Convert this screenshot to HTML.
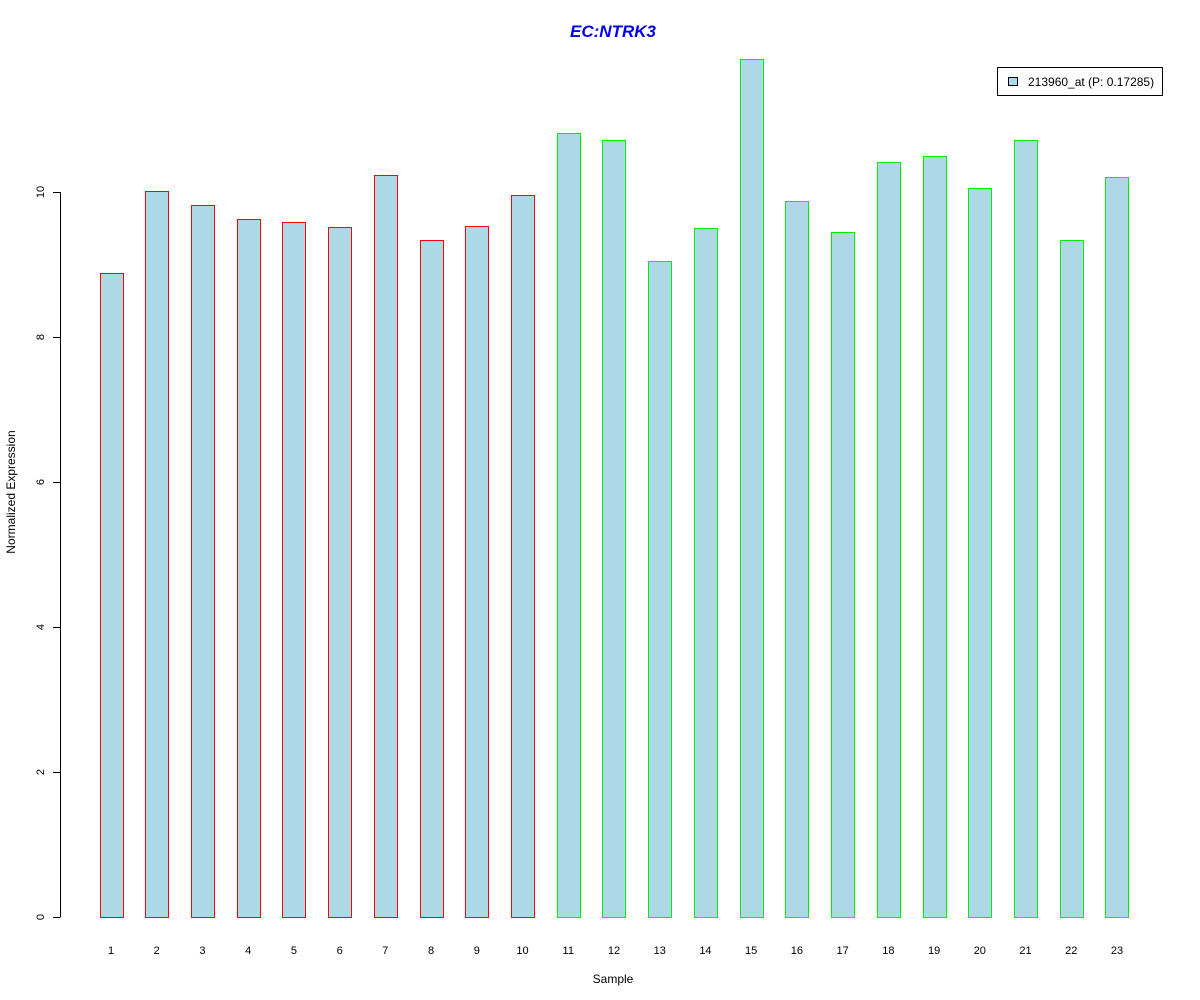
<!DOCTYPE html>
<html><head><meta charset="utf-8"><style>
html,body{margin:0;padding:0;background:#fff;}
svg{display:block;font-family:"Liberation Sans",Arial,sans-serif;}
</style></head><body>
<svg id="chart" width="1200" height="1000" viewBox="0 0 1200 1000">
<rect width="1200" height="1000" fill="#fff"/>
<text x="613" y="37" text-anchor="middle" font-size="17" font-weight="bold" font-style="italic" fill="#0000ee">EC:NTRK3</text>
<text x="613" y="983" text-anchor="middle" font-size="12">Sample</text>
<text transform="translate(15,492) rotate(-90)" text-anchor="middle" font-size="12">Normalized Expression</text>
<g id="yaxis"></g>
<g id="bars"></g>
<g id="xlabels"></g>
<g>
<rect x="997.5" y="67.5" width="165" height="28" fill="#fff" stroke="#000"/>
<rect x="1008.5" y="77.5" width="9" height="8" fill="#add8e6" stroke="#000"/>
<text x="1028" y="86" font-size="12">213960_at (P: 0.17285)</text>
</g>
</svg>
<script>
const samples = ["1","2","3","4","5","6","7","8","9","10","11","12","13","14","15","16","17","18","19","20","21","22","23"];
const values = [8.88,10.01,9.82,9.63,9.59,9.52,10.23,9.34,9.53,9.96,10.81,10.72,9.05,9.50,11.83,9.88,9.45,10.41,10.50,10.06,10.72,9.34,10.21];
const groups = ["a","a","a","a","a","a","a","a","a","a","b","b","b","b","b","b","b","b","b","b","b","b","b"];
const yTicks = [0,2,4,6,8,10];
const NS="http://www.w3.org/2000/svg";
const y = v => 917 - v*72.5;
const x = i => 111 + i*45.727;
const bw = 23;
const ya = document.getElementById('yaxis');
const ax = document.createElementNS(NS,'line');


ax.setAttribute('x1',60.5);ax.setAttribute('x2',60.5);
ax.setAttribute('y1',y(yTicks[0]));ax.setAttribute('y2',y(yTicks[yTicks.length-1]));
ax.setAttribute('stroke','#000');ya.appendChild(ax);
yTicks.forEach(t=>{
  const l=document.createElementNS(NS,'line');
  
  
  l.setAttribute('x1',53);l.setAttribute('x2',60.5);
  l.setAttribute('y1',Math.round(y(t))+0.5);l.setAttribute('y2',Math.round(y(t))+0.5);
  l.setAttribute('stroke','#000');ya.appendChild(l);
  const tx=document.createElementNS(NS,'text');
  
  
  tx.setAttribute('transform','translate(44,'+y(t)+') rotate(-90)');
  tx.setAttribute('text-anchor','middle');tx.setAttribute('font-size','11');
  tx.textContent=t;ya.appendChild(tx);
});
const bg=document.getElementById('bars'), xl=document.getElementById('xlabels');
values.forEach((v,i)=>{
  const r=document.createElementNS(NS,'rect');
  
  
  r.setAttribute('x',Math.round(x(i)-bw/2)+0.5);
  r.setAttribute('y',Math.round(y(v))+0.5);
  r.setAttribute('width',bw);
  r.setAttribute('height',Math.round(y(0))-Math.round(y(v)));
  r.setAttribute('fill','#add8e6');
  r.setAttribute('stroke',groups[i]==='a'?'#ff0000':'#00ee00');
  bg.appendChild(r);
  const t=document.createElementNS(NS,'text');
  
  
  t.setAttribute('x',x(i));t.setAttribute('y',954);
  t.setAttribute('text-anchor','middle');t.setAttribute('font-size','11');
  t.textContent=samples[i];xl.appendChild(t);
});
</script>
</body></html>
